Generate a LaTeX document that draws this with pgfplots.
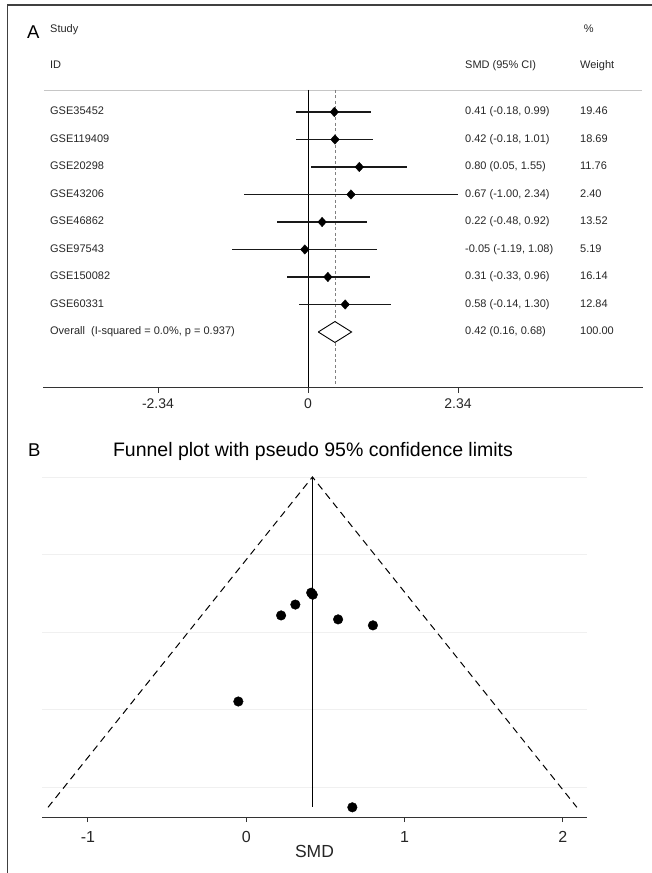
\documentclass[border=0pt]{standalone}
\usepackage{fontspec}
\setmainfont{Liberation Sans}
\usepackage{pgfplots}
\usepackage{pgfplotstable}
\pgfplotsset{compat=1.18}

% forest plot: y = -row index
\pgfplotstableread{
y es lo hi
-1 0.41 -0.18 0.99
-2 0.42 -0.18 1.01
-3 0.80 0.05 1.55
-4 0.67 -1.00 2.34
-5 0.22 -0.48 0.92
-6 -0.05 -1.19 1.08
-7 0.31 -0.33 0.96
-8 0.58 -0.14 1.30
}\foresttab

% funnel plot: SMD and negative standard error
\pgfplotstableread{
es nse
0.41 -0.2985
0.42 -0.3036
0.80 -0.3827
0.67 -0.8520
0.22 -0.3571
-0.05 -0.5791
0.31 -0.3291
0.58 -0.3673
}\funneltab

\newcommand\fa{\fontsize{11bp}{13bp}\selectfont}

\begin{document}
\begin{tikzpicture}
\useasboundingbox (0bp,0bp) rectangle (652bp,873bp);
\draw[black!75, line width=1.3bp] (652bp,868bp) -- (7.5bp,868bp) -- (7.5bp,0bp);

\node[anchor=base west, font=\fontsize{18.5bp}{20bp}\selectfont, inner sep=0pt] at (27bp,834bp) {A};
\node[anchor=base west, font=\fontsize{18.5bp}{20bp}\selectfont, inner sep=0pt] at (28bp,416bp) {B};
\node[anchor=base, font=\fontsize{19.5bp}{22bp}\selectfont, inner sep=0pt] at (313bp,416bp) {Funnel plot with pseudo 95\% confidence limits};

% ---------------- Panel A ----------------
\begin{axis}[
  at={(43bp,486bp)}, anchor=south west, scale only axis,
  width=600bp, height=371.25bp,
  xmin=-4.134, xmax=5.226, ymin=-11, ymax=2.5,
  axis x line*=bottom, axis y line=none,
  x axis line style={black!80, line width=0.9bp},
  xtick={-2.34,0,2.34}, xticklabels={-2.34,0,2.34},
  ytick=\empty,
  tick align=outside, major tick length=6bp,
  xtick style={black!80, line width=0.9bp},
  xticklabel style={font=\fontsize{14bp}{16bp}\selectfont, text=black!85, anchor=base, yshift=-16bp},
  clip=false,
]
\addplot[gray!45, line width=0.8bp] coordinates {(-4.119,-0.2) (5.21,-0.2)};
\addplot[black, line width=0.9bp] coordinates {(0,-0.2) (0,-11)};
\addplot[gray, line width=0.8bp, dash pattern=on 3bp off 2.5bp] coordinates {(0.42,-0.2) (0.42,-11)};
\addplot[only marks, mark=diamond*, mark size=4.7bp, black, mark options={xscale=1.2},
  error bars/.cd, x dir=both, x explicit, error mark=none,
  error bar style={line width=1.5bp, black!90}]
  table[x=es, y=y, x error plus expr=\thisrow{hi}-\thisrow{es}, x error minus expr=\thisrow{es}-\thisrow{lo}] {\foresttab};
\addplot[black, fill=white, line width=0.9bp] coordinates {(0.16,-9) (0.42,-8.62) (0.68,-9) (0.42,-9.38) (0.16,-9)};

\begin{scope}[every node/.style={anchor=mid west, font=\fa, text=black!85, inner sep=0pt}]
\node at (axis cs:-4.025,2) {Study};
\node at (axis cs:-4.025,0.673) {ID};
\node at (axis cs:4.30,2) {\%};
\node at (axis cs:2.449,0.673) {SMD (95\% CI)};
\node at (axis cs:4.243,0.673) {Weight};
\node at (axis cs:-4.025,-1) {GSE35452};
\node at (axis cs:-4.025,-2) {GSE119409};
\node at (axis cs:-4.025,-3) {GSE20298};
\node at (axis cs:-4.025,-4) {GSE43206};
\node at (axis cs:-4.025,-5) {GSE46862};
\node at (axis cs:-4.025,-6) {GSE97543};
\node at (axis cs:-4.025,-7) {GSE150082};
\node at (axis cs:-4.025,-8) {GSE60331};
\node at (axis cs:-4.025,-9) {Overall\ \ (I-squared = 0.0\%, p = 0.937)};
\node at (axis cs:2.449,-1) {0.41 (-0.18, 0.99)};
\node at (axis cs:2.449,-2) {0.42 (-0.18, 1.01)};
\node at (axis cs:2.449,-3) {0.80 (0.05, 1.55)};
\node at (axis cs:2.449,-4) {0.67 (-1.00, 2.34)};
\node at (axis cs:2.449,-5) {0.22 (-0.48, 0.92)};
\node at (axis cs:2.449,-6) {-0.05 (-1.19, 1.08)};
\node at (axis cs:2.449,-7) {0.31 (-0.33, 0.96)};
\node at (axis cs:2.449,-8) {0.58 (-0.14, 1.30)};
\node at (axis cs:2.449,-9) {0.42 (0.16, 0.68)};
\node at (axis cs:4.243,-1) {19.46};
\node at (axis cs:4.243,-2) {18.69};
\node at (axis cs:4.243,-3) {11.76};
\node at (axis cs:4.243,-4) {2.40};
\node at (axis cs:4.243,-5) {13.52};
\node at (axis cs:4.243,-6) {5.19};
\node at (axis cs:4.243,-7) {16.14};
\node at (axis cs:4.243,-8) {12.84};
\node at (axis cs:4.243,-9) {100.00};
\end{scope}
\end{axis}

% ---------------- Panel B ----------------
\begin{axis}[
  at={(42bp,56bp)}, anchor=south west, scale only axis,
  width=545bp, height=347bp,
  xmin=-1.290, xmax=2.152, ymin=-0.877, ymax=0.018,
  axis x line*=bottom, axis y line=none,
  x axis line style={black!80, line width=0.9bp},
  xtick={-1,0,1,2}, xticklabels={-1,0,1,2},
  ytick=\empty,
  tick align=outside, major tick length=5bp,
  xtick style={black!80, line width=0.9bp},
  xticklabel style={font=\fontsize{16bp}{18bp}\selectfont, text=black!85, anchor=base, yshift=-20bp},
  xlabel={SMD},
  x label style={font=\fontsize{17.5bp}{20bp}\selectfont, text=black!85, at={(axis description cs:0.5,0)}, anchor=base, yshift=-40bp},
  clip=false,
]
\addplot[gray!12, line width=0.8bp] coordinates {(-1.290,0) (2.152,0)};
\addplot[gray!12, line width=0.8bp] coordinates {(-1.290,-0.2) (2.152,-0.2)};
\addplot[gray!12, line width=0.8bp] coordinates {(-1.290,-0.4) (2.152,-0.4)};
\addplot[gray!12, line width=0.8bp] coordinates {(-1.290,-0.6) (2.152,-0.6)};
\addplot[gray!12, line width=0.8bp] coordinates {(-1.290,-0.8) (2.152,-0.8)};
\addplot[black, line width=1bp, dash pattern=on 7bp off 5bp] coordinates {(-1.252,-0.852) (0.418,0) (2.088,-0.852)};
\addplot[black, line width=1.1bp] coordinates {(0.418,0) (0.418,-0.852)};
\addplot[only marks, mark=*, mark size=4.8bp, black] table[x=es, y=nse] {\funneltab};
\end{axis}
\end{tikzpicture}
\end{document}
